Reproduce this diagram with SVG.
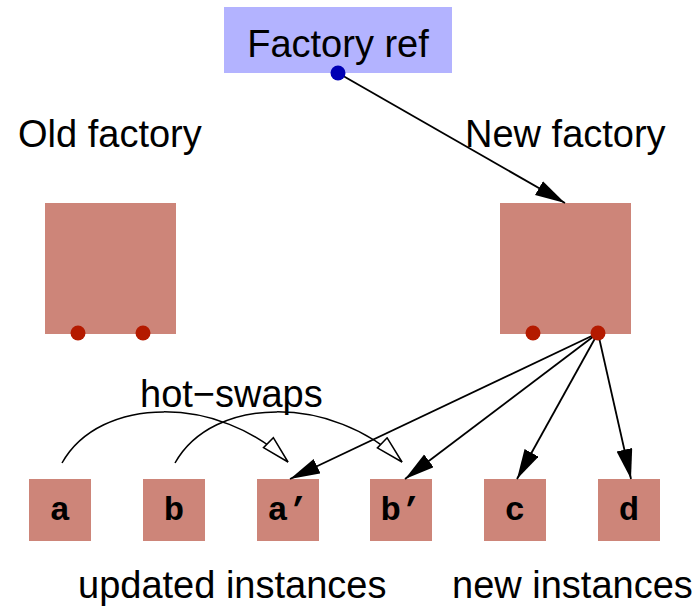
<svg xmlns="http://www.w3.org/2000/svg" width="700" height="610" viewBox="0 0 700 610">
  <style>
    .label { font-family: "Liberation Sans", Arial, Helvetica, sans-serif; font-size: 38px; fill: #000; }
    .factory { fill: #CD8579; }
    .inst rect { fill: #CD8579; }
    .inst text { font-family: "Liberation Mono", "Courier New", monospace; font-weight: bold; font-size: 34px; fill: #000; text-anchor: middle; }
    .port { fill: #B41A00; }
    .edge { fill: none; stroke: #000; stroke-width: 1.8; }
    .swap { fill: none; stroke: #000; stroke-width: 1.5; }
  </style>
  <defs>
    <marker id="head" markerUnits="userSpaceOnUse" markerWidth="32" markerHeight="18" refX="30" refY="8" orient="auto">
      <path d="M0,0 L30,8 L0,16 Z" fill="#000"/>
    </marker>
    <marker id="openhead" markerUnits="userSpaceOnUse" markerWidth="32" markerHeight="18" refX="28.5" refY="8" orient="auto">
      <path d="M1,1 L28.5,8 L1,15 Z" fill="#fff" stroke="#000" stroke-width="1.5"/>
    </marker>
  </defs>

  <!-- factory reference -->
  <g id="factory-ref">
    <rect x="224" y="7" width="228" height="66" fill="#B3B3FF"/>
    <text class="label" x="338" y="57" text-anchor="middle">Factory ref</text>
  </g>

  <!-- factories -->
  <g id="old-factory">
    <text class="label" x="18" y="147">Old factory</text>
    <rect class="factory" x="45" y="203" width="131" height="131"/>
  </g>
  <g id="new-factory">
    <text class="label" x="465" y="147">New factory</text>
    <rect class="factory" x="500" y="203" width="131" height="131"/>
  </g>

  <!-- instances -->
  <g id="inst-a" class="inst"><rect x="29" y="479" width="62" height="62"/><text x="60" y="520">a</text></g>
  <g id="inst-b" class="inst"><rect x="143" y="479" width="62" height="62"/><text x="174" y="520">b</text></g>
  <g id="inst-a2" class="inst"><rect x="257" y="479" width="62" height="62"/><text x="288" y="520">a’</text></g>
  <g id="inst-b2" class="inst"><rect x="370" y="479" width="62" height="62"/><text x="401" y="520">b’</text></g>
  <g id="inst-c" class="inst"><rect x="484" y="479" width="62" height="62"/><text x="515" y="520">c</text></g>
  <g id="inst-d" class="inst"><rect x="598" y="479" width="62" height="62"/><text x="629" y="520">d</text></g>

  <!-- captions -->
  <g id="captions">
    <text class="label" x="140" y="407">hot−swaps</text>
    <text class="label" x="78" y="598">updated instances</text>
    <text class="label" x="452" y="598">new instances</text>
  </g>

  <!-- connectors -->
  <g id="connectors">
    <path class="edge" d="M338,73 L565,203" marker-end="url(#head)"/>
    <path class="edge" d="M598,333 L290,479" marker-end="url(#head)"/>
    <path class="edge" d="M598,333 L405,479" marker-end="url(#head)"/>
    <path class="edge" d="M598,333 L517,479" marker-end="url(#head)"/>
    <path class="edge" d="M598,333 L631,479" marker-end="url(#head)"/>
    <path class="swap" d="M62,463 C100,395 220,395 288,462" marker-end="url(#openhead)"/>
    <path class="swap" d="M175,463 C213,395 333,395 402,462" marker-end="url(#openhead)"/>
  </g>

  <!-- ports -->
  <g id="ports">
    <circle cx="338" cy="73" r="7.5" fill="#0000B4"/>
    <circle class="port" cx="78" cy="333" r="7.5"/>
    <circle class="port" cx="143" cy="333" r="7.5"/>
    <circle class="port" cx="533" cy="333" r="7.5"/>
    <circle class="port" cx="598" cy="333" r="7.5"/>
  </g>
</svg>
